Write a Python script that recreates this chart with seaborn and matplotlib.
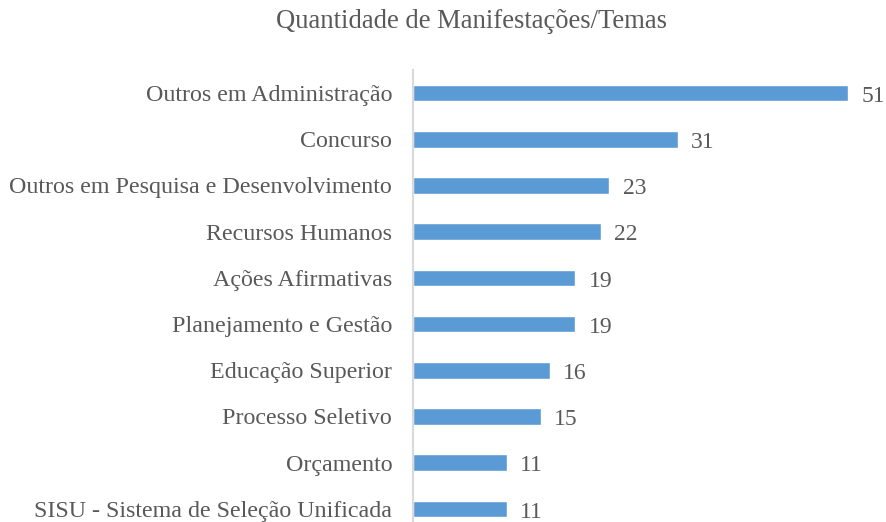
import matplotlib
matplotlib.use("Agg")
import matplotlib.pyplot as plt
import seaborn as sns
import pandas as pd

categorias = [
    "Outros em Administração",
    "Concurso",
    "Outros em Pesquisa e Desenvolvimento",
    "Recursos Humanos",
    "Ações Afirmativas",
    "Planejamento e Gestão",
    "Educação Superior",
    "Processo Seletivo",
    "Orçamento",
    "SISU - Sistema de Seleção Unificada",
]
quantidades = [51, 31, 23, 22, 19, 19, 16, 15, 11, 11]

df = pd.DataFrame({"Tema": categorias, "Qtd": quantidades})

sns.set_theme(style="white")
plt.rcParams['font.family'] = ['Liberation Serif', 'DejaVu Serif']
TEXT = "#595959"

fig = plt.figure(figsize=(8.86, 5.22), dpi=100)
ax = fig.add_axes([413 / 886, -10 / 522, 467 / 886, 462 / 522])

sns.barplot(data=df, y="Tema", x="Qtd", color="#5B9BD5", width=0.36,
            saturation=1, ax=ax)

ax.set_xlim(0, 54.7)
ax.set_ylim(len(categorias) - 0.5, -0.5)
for i, v in enumerate(quantidades):
    ax.text(v + 1.55, i + 0.19, str(v), va="baseline", ha="left",
            fontsize=17, color=TEXT)

ax.set_xlabel("")
ax.set_ylabel("")
ax.set_xticks([])
ax.tick_params(axis="y", length=0, pad=15, labelsize=17.3, labelcolor=TEXT)
for s in ["top", "right", "bottom"]:
    ax.spines[s].set_visible(False)
ax.spines["left"].set_color("#D9D9D9")
ax.spines["left"].set_linewidth(1.5)

fig.text(471 / 886, 1 - 22 / 522, "Quantidade de Manifestações/Temas",
         ha="center", va="center", fontsize=19.2, color=TEXT)

fig.savefig("out.png", dpi=100)
